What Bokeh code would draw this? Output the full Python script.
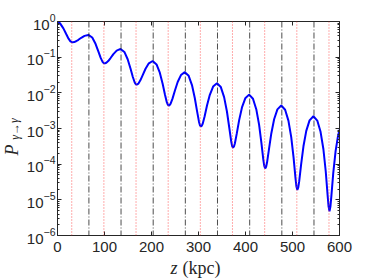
from bokeh.plotting import figure
from bokeh.models import Range1d, LinearAxis, LogAxis, FixedTicker, Span, Label, CustomJSTickFormatter
from bokeh.embed import file_html
from bokeh.resources import INLINE

# distance z (kpc) and photon survival probability
z = [0, 5.5, 12.5, 18.5, 23.5, 27.5, 31.5, 35.5, 39.5, 44.5, 50.5, 57.5, 65.7,
     73.9, 80.9, 86.9, 91.9, 95.9, 97.9, 99.9, 101.9, 103.9, 107.9, 112.9, 118.9, 125.9, 134.1,
     142.3, 149.3, 155.3, 160.3, 164.3, 166.3, 168.3, 170.3, 172.3, 176.3, 181.3, 187.3, 194.3, 202.5,
     210.7, 217.7, 223.7, 228.7, 232.7, 234.7, 236.7, 238.7, 240.7, 244.7, 249.7, 255.7, 262.7, 270.9,
     279.1, 286.1, 292.1, 297.1, 301.1, 303.1, 305.1, 307.1, 309.1, 313.1, 318.1, 324.1, 331.1, 339.3,
     347.5, 354.5, 360.5, 365.5, 369.5, 371.5, 373.5, 375.5, 377.5, 381.5, 386.5, 392.5, 399.5, 407.7,
     415.9, 422.9, 428.9, 433.9, 437.9, 439.9, 441.9, 443.9, 445.9, 449.9, 454.9, 460.9, 467.9, 476.1,
     484.3, 491.3, 497.3, 502.3, 506.3, 508.3, 510.3, 512.3, 514.3, 518.3, 523.3, 529.3, 536.3, 544.5,
     552.7, 559.7, 565.7, 570.7, 574.7, 576.7, 578.7, 580.7, 582.7, 586.7, 591.7, 596.7, 600]
P = [1.0, 0.884, 0.643, 0.445, 0.330, 0.277, 0.260, 0.265, 0.279, 0.307, 0.349, 0.396, 0.420,
     0.355, 0.237, 0.146, 0.0955, 0.0739, 0.0687, 0.0670, 0.0677, 0.0697, 0.0776, 0.0945, 0.122, 0.153, 0.170,
     0.140, 0.0875, 0.0482, 0.0278, 0.0195, 0.0176, 0.0170, 0.0173, 0.0183, 0.0224, 0.0315, 0.0474, 0.0671, 0.0780,
     0.0627, 0.0366, 0.0179, 0.00879, 0.00539, 0.00464, 0.00440, 0.00454, 0.00498, 0.00687, 0.0114, 0.0201, 0.0315, 0.0380,
     0.0300, 0.0165, 0.00718, 0.00298, 0.00153, 0.00123, 0.00114, 0.00120, 0.00138, 0.00221, 0.00439, 0.00883, 0.0150, 0.0186,
     0.0145, 0.00758, 0.00300, 0.00105, 0.000441, 0.000325, 0.000290, 0.000313, 0.000385, 0.000729, 0.00172, 0.00389, 0.00703, 0.00890,
     0.00685, 0.00348, 0.00128, 0.000391, 0.000134, 0.0000891, 0.0000760, 0.0000847, 0.000113, 0.000261, 0.000726, 0.00181, 0.00343, 0.00440,
     0.00336, 0.00166, 0.000574, 0.000153, 0.0000413, 0.0000238, 0.0000190, 0.0000223, 0.0000334, 0.0000970, 0.000317, 0.000860, 0.00169, 0.00220,
     0.00167, 0.000808, 0.000266, 0.0000633, 0.0000136, 0.00000659, 0.0000048, 0.00000644, 0.0000127, 0.0000562, 0.000231, 0.000598, 0.00093]

# vertical guide lines
z_minima = [30.3, 98.7, 167.1, 235.5, 303.9, 372.3, 440.8, 509.2, 577.6]
z_maxima = [66.8, 135.2, 203.6, 272.0, 340.4, 408.9, 477.3, 545.7]

x_ticks = [0, 100, 200, 300, 400, 500, 600]
y_ticks = [1e-6, 1e-5, 1e-4, 1e-3, 1e-2, 1e-1, 1]
y_minor = [m * t for t in y_ticks[:-1] for m in range(2, 10)]

AX = "#262626"

p = figure(width=374, height=280, x_range=Range1d(0, 600), y_range=Range1d(1e-6, 1),
           y_axis_type="log", output_backend="svg", toolbar_location=None,
           min_border_left=57, min_border_right=35, min_border_top=21, min_border_bottom=45)
p.grid.visible = False
p.outline_line_color = AX
p.outline_line_width = 1
p.background_fill_color = "white"
p.border_fill_color = "white"

for v in z_minima:
    p.add_layout(Span(location=v, dimension="height", line_color="#ff3030",
                      line_dash="1 2", line_width=0.8))
for v in z_maxima:
    p.add_layout(Span(location=v, dimension="height", line_color="#202020",
                      line_dash="6 2 1 2", line_width=0.8))

p.line(z, P, line_color="#0000ff", line_width=2)

xt = FixedTicker(ticks=x_ticks)
yt = FixedTicker(ticks=y_ticks, minor_ticks=y_minor)

def style(ax, labels=True, minor=True):
    ax.axis_line_color = AX
    ax.major_tick_line_color = AX
    ax.minor_tick_line_color = AX if minor else None
    ax.major_tick_in = 4
    ax.major_tick_out = 0
    ax.minor_tick_in = 2
    ax.minor_tick_out = 0
    ax.major_label_text_color = AX
    ax.major_label_text_font = "Liberation Sans"
    ax.major_label_text_font_size = "15px"
    if not labels:
        ax.formatter = CustomJSTickFormatter(code="return ''")
        ax.major_label_text_font_size = "0px"
        ax.major_label_standoff = 0

p.xaxis.ticker = xt
p.yaxis.ticker = yt
style(p.xaxis[0], minor=False)
style(p.yaxis[0])
p.xaxis.major_label_standoff = 6
p.yaxis.major_label_standoff = 2

top = LinearAxis(ticker=xt)
style(top, labels=False, minor=False)
p.add_layout(top, "above")
right = LogAxis(ticker=yt)
style(right, labels=False)
p.add_layout(right, "right")

# axis titles live in the side panels (annotations in the centre are clipped to the frame)
serif = "Liberation Serif"
p.add_layout(Label(x=170, y=267, x_units="canvas", y_units="canvas", text="z",
                   text_font=serif, text_font_style="italic", text_font_size="18px",
                   text_color=AX, text_baseline="middle", text_align="left"), "below")
p.add_layout(Label(x=182, y=267, x_units="canvas", y_units="canvas", text="(kpc)",
                   text_font=serif, text_font_size="18px", text_color=AX,
                   text_baseline="middle", text_align="left"), "above")
p.add_layout(Label(x=11, y=149.5, x_units="canvas", y_units="canvas", text="P",
                   text_font=serif, text_font_style="italic", text_font_size="18px",
                   text_color=AX, angle=1.5708, text_baseline="middle", text_align="center"), "left")
p.add_layout(Label(x=14, y=128.5, x_units="canvas", y_units="canvas", text="γ→γ",
                   text_font=serif, text_font_style="italic", text_font_size="12px",
                   text_color=AX, angle=1.5708, text_baseline="middle", text_align="center"), "right")

open("out.html", "w").write(file_html(p, INLINE))
